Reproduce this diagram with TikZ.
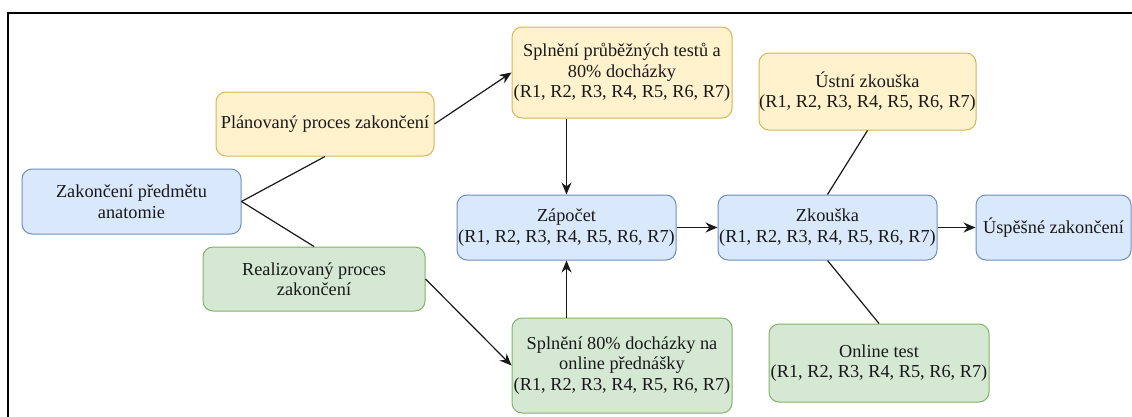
\documentclass[tikz,border=0pt]{standalone}
\usepackage{fontspec}
\setmainfont{Liberation Serif}
\usepackage{xcolor}
\usetikzlibrary{positioning, arrows.meta}

\definecolor{bluefill}{HTML}{DAE8FC}
\definecolor{bluedraw}{HTML}{6C8EBF}
\definecolor{yelfill}{HTML}{FFF2CC}
\definecolor{yeldraw}{HTML}{D6B656}
\definecolor{grnfill}{HTML}{D5E8D4}
\definecolor{grndraw}{HTML}{82B366}

\tikzset{
  box/.style={rounded corners=10pt,align=center,inner sep=0pt,line width=1pt,
              text=black!90,font=\rmfamily\fontsize{18.3}{20.5}\selectfont},
  bluebox/.style={box,fill=bluefill,draw=bluedraw},
  yelbox/.style={box,fill=yelfill,draw=yeldraw},
  grnbox/.style={box,fill=grnfill,draw=grndraw},
  link/.style={line width=1.2pt,black!90}
}

\begin{document}
\begin{tikzpicture}[x=1pt,y=-1pt,>={Stealth[length=12pt,width=10pt]}]
  \useasboundingbox (0,0) rectangle (1132,416);
  \draw[line width=2pt](8,417)--(8,13)--(1133,13);
  % left part
  \node[bluebox,minimum width=219pt,minimum height=65pt] (zak) at (131.5,201.5)
       {Zakončení předmětu\\anatomie};
  \node[yelbox,minimum width=218pt,minimum height=64pt] (plan) at (325,124)
       {Plánovaný proces zakončení};
  \node[grnbox,minimum width=222pt,minimum height=64pt] (real) at (314,279)
       {Realizovaný proces\\zakončení};
  \draw[link](zak.east)--(plan.south);
  \draw[link](zak.east)--(real.north);
  % middle
  \node[yelbox,minimum width=220pt,minimum height=91pt] (prub) at (622,72.5)
       {Splnění průběžných testů a\\80\% docházky\\(R1, R2, R3, R4, R5, R6, R7)};
  \node[bluebox,minimum width=219pt,minimum height=65pt] (zap) at (566.5,227.5)
       {Zápočet\\(R1, R2, R3, R4, R5, R6, R7)};
  \node[grnbox,minimum width=220pt,minimum height=95pt] (onl) at (622,365.5)
       {Splnění 80\% docházky na\\online přednášky\\(R1, R2, R3, R4, R5, R6, R7)};
  \draw[link,->](plan.east)--(prub.west);
  \draw[link,->](real.east)--(onl.west);
  \draw[link,->](zap.north |- prub.south)--(zap.north);
  \draw[link,->](zap.south |- onl.north)--(zap.south);
  % right part
  \node[bluebox,minimum width=219pt,minimum height=65pt] (zk) at (827.5,227.5)
       {Zkouška\\(R1, R2, R3, R4, R5, R6, R7)};
  \node[bluebox,minimum width=155pt,minimum height=65pt] (usp) at (1053.5,227.5)
       {Úspěšné zakončení};
  \node[yelbox,minimum width=217pt,minimum height=77pt] (ustni) at (867.5,91.5)
       {Ústní zkouška\\(R1, R2, R3, R4, R5, R6, R7)};
  \node[grnbox,minimum width=220pt,minimum height=78pt] (otest) at (879,363)
       {Online test\\(R1, R2, R3, R4, R5, R6, R7)};
  \draw[link,->](zap.east)--(zk.west);
  \draw[link,->](zk.east)--(usp.west);
  \draw[link](ustni.south)--(zk.north);
  \draw[link](zk.south)--(otest.north);
\end{tikzpicture}
\end{document}
